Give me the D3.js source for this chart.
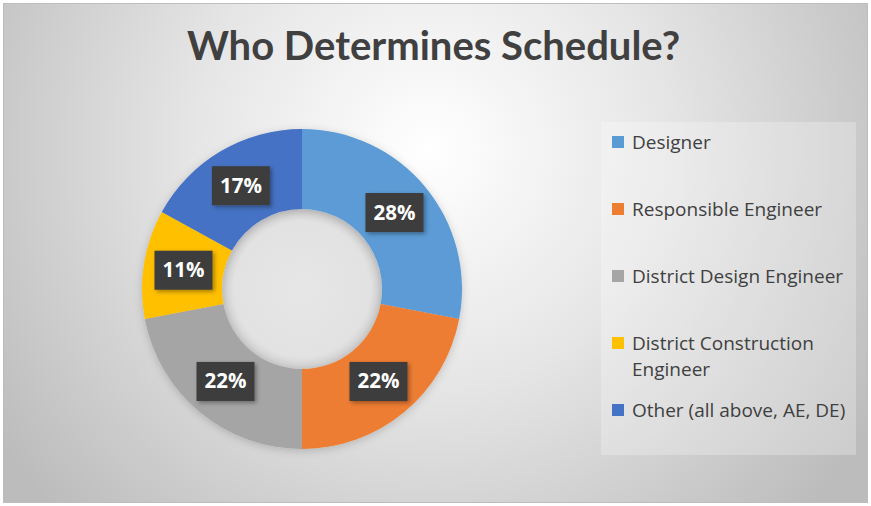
<!DOCTYPE html>
<html>
<head>
<meta charset="utf-8">
<script src="https://cdn.jsdelivr.net/npm/d3@7"></script>
<style>
  body { margin: 0; background: #fff; }
  svg { display: block; font-family: "Open Sans", Lato, sans-serif; }
</style>
</head>
<body>
<svg id="chart"></svg>
<script>
// Donut chart - who determines schedule
const width = 871;
const height = 506;

const categories = ["Designer", "Responsible Engineer", "District Design Engineer", "District Construction Engineer", "Other (all above, AE, DE)"];
const values = [28, 22, 22, 11, 17];
const colors = ["#5b9bd5", "#ed7d31", "#a5a5a5", "#ffc000", "#4472c4"];

const cx = 302, cy = 289;
const outerR = 160, innerR = 80;

const svg = d3.select("#chart")
    .attr("width", width)
    .attr("height", height);

const defs = svg.append("defs");

// background gradient
const bg = defs.append("radialGradient")
    .attr("id", "bg")
    .attr("gradientUnits", "userSpaceOnUse")
    .attr("cx", 430).attr("cy", 150).attr("r", 520);
bg.append("stop").attr("offset", "0%").attr("stop-color", "#ffffff");
bg.append("stop").attr("offset", "45%").attr("stop-color", "#e6e6e6");
bg.append("stop").attr("offset", "100%").attr("stop-color", "#bcbcbc");

const hole = defs.append("radialGradient").attr("id", "hole");
hole.append("stop").attr("offset", "0%").attr("stop-color", "#e6e6e6");
hole.append("stop").attr("offset", "85%").attr("stop-color", "#e2e2e2");
hole.append("stop").attr("offset", "100%").attr("stop-color", "#cfcfcf");

const shadow = defs.append("filter").attr("id", "shadow")
    .attr("x", "-20%").attr("y", "-20%").attr("width", "140%").attr("height", "140%");
shadow.append("feDropShadow")
    .attr("dx", 2).attr("dy", 2).attr("stdDeviation", 2)
    .attr("flood-color", "#000").attr("flood-opacity", 0.35);

const ringShadow = defs.append("filter").attr("id", "ringShadow")
    .attr("x", "-20%").attr("y", "-20%").attr("width", "140%").attr("height", "140%");
ringShadow.append("feDropShadow")
    .attr("dx", 0).attr("dy", 2).attr("stdDeviation", 4)
    .attr("flood-color", "#000").attr("flood-opacity", 0.18);

svg.append("rect")
    .attr("x", 3.5).attr("y", 3.5)
    .attr("width", width - 7).attr("height", height - 7)
    .attr("fill", "url(#bg)")
    .attr("stroke", "#bdbdbd");

// title
svg.append("text")
    .attr("x", 433.5)
    .attr("y", 59.5)
    .attr("text-anchor", "middle")
    .attr("font-family", "Lato, sans-serif")
    .attr("font-size", 40)
    .attr("font-weight", "bold")
    .attr("fill", "#404040")
    .text("Who Determines Schedule?");

// donut
const pie = d3.pie().sort(null).value(d => d);
const arcs = pie(values);
const arc = d3.arc().innerRadius(innerR).outerRadius(outerR);

const g = svg.append("g").attr("transform", `translate(${cx},${cy})`);

g.append("circle").attr("r", innerR).attr("fill", "url(#hole)");

g.append("g")
    .attr("filter", "url(#ringShadow)")
    .selectAll("path")
    .data(arcs)
    .join("path")
    .attr("d", arc)
    .attr("fill", (d, i) => colors[i]);

// percentage labels
const labelArc = d3.arc().innerRadius((innerR + outerR) / 2).outerRadius((innerR + outerR) / 2);
const total = d3.sum(values);

const label = g.append("g")
    .selectAll("g")
    .data(arcs)
    .join("g")
    .attr("transform", d => `translate(${labelArc.centroid(d)})`);

label.append("rect")
    .attr("x", -29).attr("y", -19.5)
    .attr("width", 58).attr("height", 39)
    .attr("fill", "#3d3d3d")
    .attr("filter", "url(#shadow)");

label.append("text")
    .attr("y", 7)
    .attr("text-anchor", "middle")
    .attr("font-size", 20.5)
    .attr("font-weight", "bold")
    .attr("fill", "#fff")
    .text(d => Math.round(d.data / total * 100) + "%");

// legend
const legend = svg.append("g");
legend.append("rect")
    .attr("x", 601).attr("y", 122)
    .attr("width", 255).attr("height", 333)
    .attr("fill", "#ffffff").attr("fill-opacity", 0.25);

const legendY = d3.scalePoint().domain(categories).range([142, 410]);

const item = legend.selectAll("g")
    .data(categories)
    .join("g")
    .attr("transform", d => `translate(612,${legendY(d)})`);

item.append("rect")
    .attr("y", -6)
    .attr("width", 12).attr("height", 12)
    .attr("fill", (d, i) => colors[i]);

item.append("text")
    .attr("font-size", 19)
    .attr("fill", "#404040")
    .each(function (d) {
        // wrap the long label onto two lines
        const lines = d === "District Construction Engineer" ? ["District Construction", "Engineer"] : [d];
        const t = d3.select(this);
        lines.forEach((l, i) => {
            t.append("tspan")
                .attr("x", 20)
                .attr("y", 7 + i * 26)
                .text(l);
        });
    });
</script>
</body>
</html>
